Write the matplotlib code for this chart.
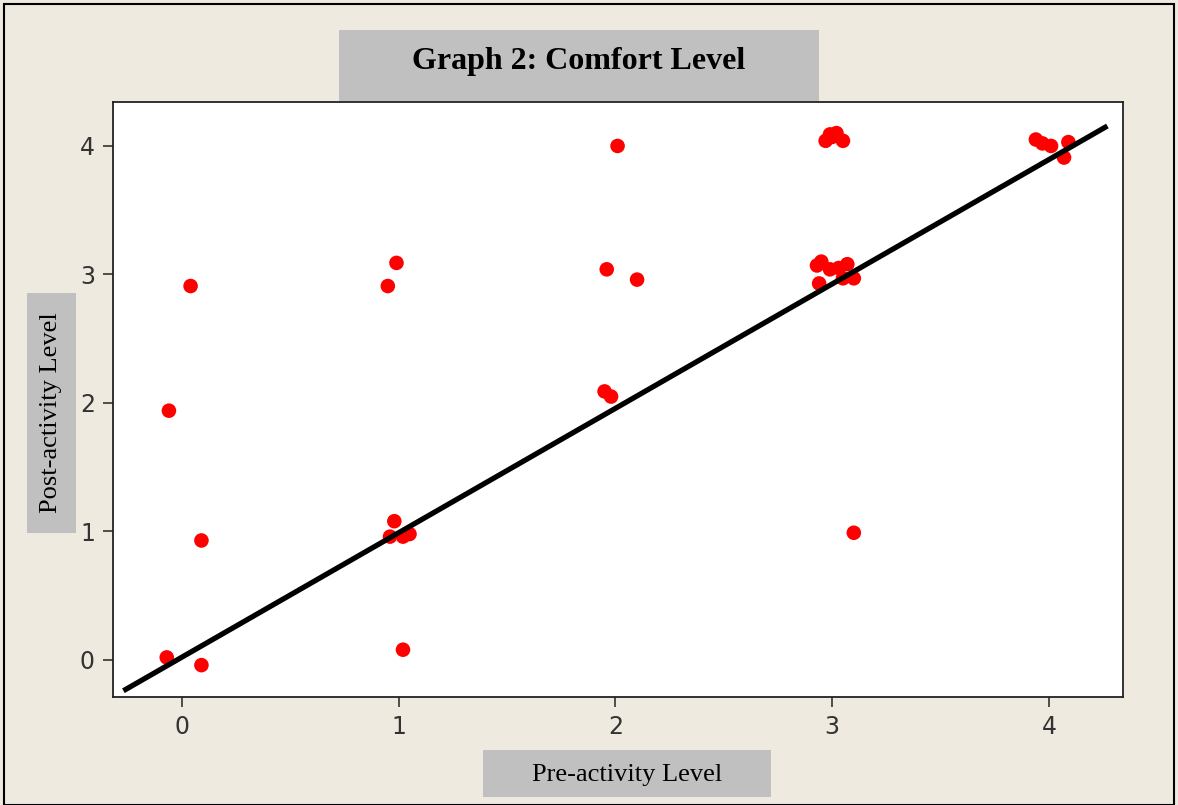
import matplotlib
matplotlib.use("Agg")
import matplotlib.pyplot as plt
from matplotlib.patches import Rectangle

# ---- data (jittered survey responses) ----
pre_level = [0.04, -0.06, 0.09, -0.07, 0.09,
             0.95, 0.99, 0.98, 0.96, 1.02, 1.05, 1.02,
             1.96, 2.10, 1.95, 1.98, 2.01, 3.10,
             2.97, 2.99, 3.02, 3.05, 3.00,
             2.93, 2.95, 2.94, 2.99, 3.03, 3.07, 3.10, 3.05,
             3.94, 3.97, 4.01, 4.09, 4.07]
post_level = [2.91, 1.94, 0.93, 0.02, -0.04,
              2.91, 3.09, 1.08, 0.96, 0.96, 0.98, 0.08,
              3.04, 2.96, 2.09, 2.05, 4.00, 0.99,
              4.04, 4.09, 4.10, 4.04, 4.07,
              3.07, 3.10, 2.93, 3.04, 3.05, 3.08, 2.97, 2.97,
              4.05, 4.02, 4.00, 4.03, 3.91]

fit_intercept = 0.022
fit_slope = 0.968
fit_x_range = [-0.27, 4.27]

x_ticks = [0, 1, 2, 3, 4]
y_ticks = [0, 1, 2, 3, 4]

title_text = "Graph 2: Comfort Level"
xlabel_text = "Pre-activity Level"
ylabel_text = "Post-activity Level"

bg = "#EFEAE0"
box_gray = "#C0C0C0"

fig = plt.figure(figsize=(11.78, 8.05), dpi=100, facecolor=bg)

# outer frame
fig.patches.append(Rectangle((0.003, 0.0), 0.994, 0.995, transform=fig.transFigure,
                             fill=False, edgecolor="black", linewidth=1.5))

ax = fig.add_axes([113/1178, 1-697/805, 1010/1178, 595/805])
ax.set_facecolor("white")

ax.scatter(pre_level, post_level, s=110, color="#FF0000", edgecolors="none", zorder=3)
fy = [fit_intercept + fit_slope * v for v in fit_x_range]
ax.plot(fit_x_range, fy, color="black", linewidth=3.8, zorder=4, solid_capstyle="butt")

ax.set_xlim(-0.318, 4.342)
ax.set_ylim(-0.288, 4.342)
ax.set_xticks(x_ticks)
ax.set_yticks(y_ticks)
ax.tick_params(axis="both", direction="out", length=7, width=1.2, color="#333333",
               labelsize=17, labelcolor="#333333", pad=6)
for sp in ax.spines.values():
    sp.set_color("#222222")
    sp.set_linewidth(1.3)

# title box
fig.patches.append(Rectangle((339/1178, 1-101/805), 480/1178, 71/805,
                             transform=fig.transFigure, facecolor=box_gray, edgecolor="none"))
fig.text(579/1178, 1-61/805, title_text, ha="center", va="center",
         family="Liberation Serif", fontweight="bold", fontsize=23, color="black")

# y label box
fig.patches.append(Rectangle((27/1178, 1-533/805), 49/1178, 240/805,
                             transform=fig.transFigure, facecolor=box_gray, edgecolor="none"))
fig.text(51/1178, 1-413/805, ylabel_text, ha="center", va="center", rotation=90,
         family="Liberation Serif", fontsize=19, color="black")

# x label box
fig.patches.append(Rectangle((483/1178, 1-797/805), 288/1178, 47/805,
                             transform=fig.transFigure, facecolor=box_gray, edgecolor="none"))
fig.text(627/1178, 1-775/805, xlabel_text, ha="center", va="center",
         family="Liberation Serif", fontsize=19, color="black")

fig.savefig("out.png", dpi=100, facecolor=bg)
